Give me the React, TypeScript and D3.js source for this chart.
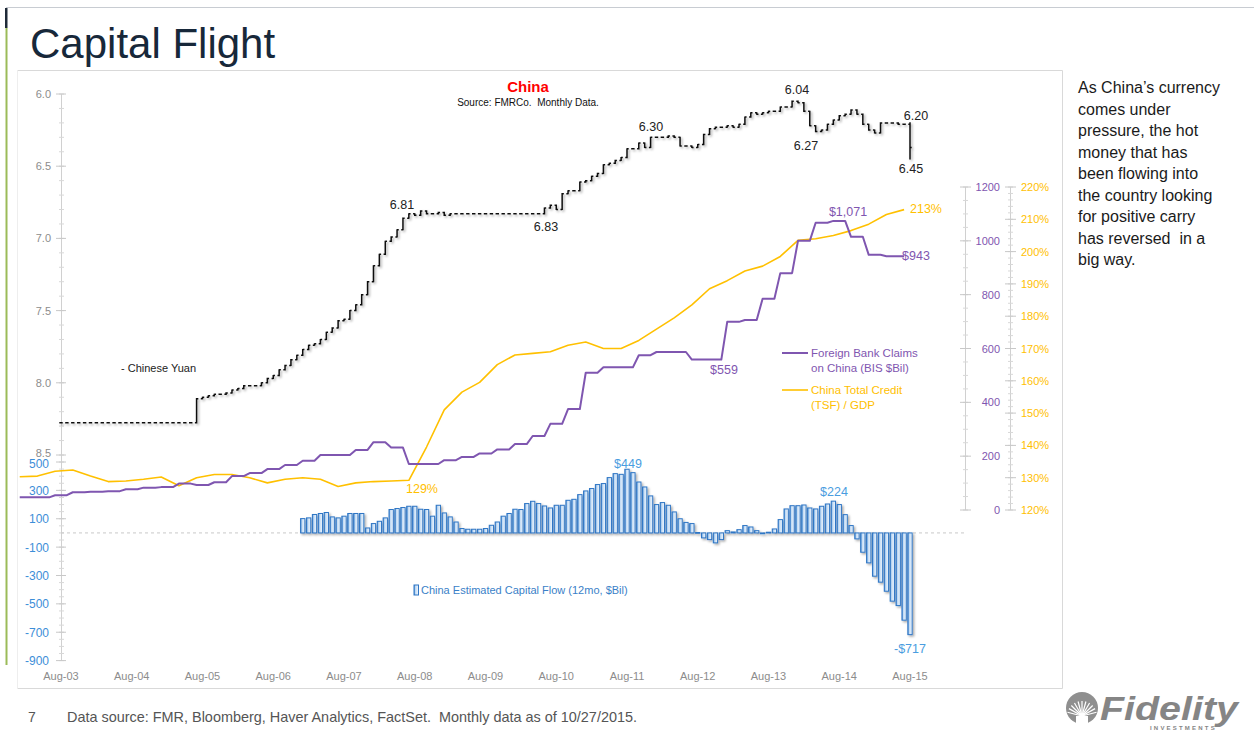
import React from 'react';
import * as d3 from 'd3';

const W = 1254;
const H = 734;

// ---------- tick labels ----------
const xTickLabels = ['Aug-03', 'Aug-04', 'Aug-05', 'Aug-06', 'Aug-07', 'Aug-08', 'Aug-09', 'Aug-10', 'Aug-11', 'Aug-12', 'Aug-13', 'Aug-14', 'Aug-15'];
const yuanTicks = [6.0, 6.5, 7.0, 7.5, 8.0, 8.5];
const flowTicks = [500, 300, 100, -100, -300, -500, -700, -900];
const claimsTicks = [0, 200, 400, 600, 800, 1000, 1200];
const tsfTicks = [120, 130, 140, 150, 160, 170, 180, 190, 200, 210, 220];

// ---------- data ----------
// months counted from Aug-03 (= 0)
// USD/CNY monthly closes, Aug-03 .. Aug-15
const yuanFirstOpen = 8.277;
const yuanClose = [
  8.277, 8.277, 8.277, 8.277, 8.277, 8.277, 8.277, 8.277, 8.277, 8.277, 8.277, 8.277,
  8.277, 8.277, 8.277, 8.277, 8.277, 8.277, 8.277, 8.277, 8.277, 8.277, 8.277,
  8.11, 8.10, 8.09, 8.08, 8.08, 8.07, 8.05, 8.04, 8.02, 8.02, 8.02, 8.00,
  7.97, 7.95, 7.91, 7.88, 7.84, 7.81, 7.77, 7.74, 7.73, 7.70, 7.65, 7.62,
  7.57, 7.56, 7.50, 7.46, 7.39, 7.30, 7.19, 7.11, 7.02, 6.99, 6.94, 6.86,
  6.83, 6.84, 6.81, 6.83, 6.83, 6.82, 6.84, 6.83, 6.83, 6.83, 6.83, 6.83,
  6.83, 6.83, 6.83, 6.83, 6.83, 6.83, 6.83, 6.83, 6.83, 6.83, 6.83, 6.79,
  6.77, 6.80, 6.69, 6.67, 6.67, 6.61, 6.60, 6.57, 6.55, 6.49, 6.48, 6.46,
  6.44, 6.38, 6.38, 6.34, 6.37, 6.30, 6.30, 6.30, 6.29, 6.30, 6.36, 6.36,
  6.37, 6.35, 6.28, 6.24, 6.23, 6.23, 6.22, 6.23, 6.21, 6.16, 6.13, 6.14,
  6.13, 6.12, 6.12, 6.09, 6.09, 6.05, 6.06, 6.12, 6.22, 6.26, 6.25, 6.21,
  6.18, 6.15, 6.14, 6.11, 6.14, 6.21, 6.25, 6.27, 6.20, 6.20, 6.20, 6.21,
  6.21, 6.37,
];
// extra range for months whose bar reaches beyond open/close
const yuanWicks = [{ m: 144, hi: 6.20, lo: 6.45 }];

// China estimated capital flow (12mo, $Bil), monthly from Jan-07 (month 41)
const flowStart = 41;
const flowValues = [
  101, 106, 130, 137, 144, 113, 106, 118, 137, 137, 137, 35,
  66, 82, 106, 165, 172, 179, 188, 188, 167, 165, 118, 195,
  141, 113, 77, 31, 26, 26, 26, 31, 54, 77, 118, 137,
  167, 165, 207, 223, 207, 190, 176, 195, 195, 230, 237, 270,
  296, 313, 341, 348, 390, 418, 413, 449, 425, 359, 324, 261,
  200, 214, 195, 148, 100, 74, 66, 3, -35, -47, -70, -47,
  16, 7, 23, 52, 42, 16, -5, 5, 28, 94, 169, 192,
  192, 197, 176, 169, 188, 204, 224, 200, 129, 52, -42, -136,
  -211, -305, -347, -411, -481, -512, -615, -717,
];

// Foreign bank claims on China (BIS, $Bil), quarterly from Q1-03 (month -7)
const claimsStart = -7;
const claimsValues = [
  47, 47, 55, 66, 68, 70, 77, 83, 85, 98, 93, 103,
  126, 137, 152, 167, 183, 204, 204, 223, 252, 232, 171, 171,
  185, 197, 210, 225, 245, 275, 320, 375, 510, 530, 530, 575,
  587, 587, 559, 559, 699, 706, 785, 880, 1000, 1067, 1074, 1015,
  948, 943,
];

// China total credit (TSF) / GDP, %, quarterly from month -7
const tsfStart = -7;
const tsfValues = [
  130.3, 130.5, 132, 132.4, 130.5, 128.8, 129, 129.5, 130.2, 127.5, 130, 131,
  131, 130, 128.4, 129.5, 130, 129.5, 127.3, 128.4, 128.8, 129, 129.2, 139.5,
  151, 156.5, 159.5, 165, 168, 168.5, 169, 171, 172, 170, 170, 172.5,
  176, 179.5, 183.5, 188.5, 191, 194, 195.5, 198.5, 203.5, 204, 205, 206.5,
  208.5, 211.5, 213,
];

// ---------- colours ----------
const PURPLE = '#7f56b0';
const ORANGE = '#ffc000';
const BLUE = '#3d8ed8';
const GRAY = '#8c8c8c';
const FONT = "Arial, 'Liberation Sans', Helvetica, sans-serif";

export default function App() {
  const x = d3.scaleLinear().domain([0, 144]).range([61, 910]);
  const yYuan = d3.scaleLinear().domain([6.0, 8.5]).range([94, 455]);
  const yFlow = d3.scaleLinear().domain([500, -900]).range([462, 660.6]);
  const yClaims = d3.scaleLinear().domain([0, 1200]).range([510, 187]);
  const yTsf = d3.scaleLinear().domain([120, 220]).range([510, 187]);

  // yuan OHLC-style bars
  const yuanBars = yuanClose.map((c, m) => {
    const o = m === 0 ? yuanFirstOpen : yuanClose[m - 1];
    let hi = Math.min(o, c);
    let lo = Math.max(o, c);
    const w = yuanWicks.find((d) => d.m === m);
    if (w) {
      hi = Math.min(hi, w.hi);
      lo = Math.max(lo, w.lo);
    }
    const xm = x(m);
    const t = 1.7;
    return `M${xm},${yYuan(hi) - 0.6}V${yYuan(lo) + 0.6}M${xm - t},${yYuan(o)}H${xm}M${xm},${yYuan(c)}H${xm + t}`;
  });

  // claims step line
  const claimsPts: [number, number][] = [];
  claimsValues.forEach((v, k) => {
    const m0 = claimsStart + 3 * k;
    const last = k === claimsValues.length - 1;
    claimsPts.push([x(m0), yClaims(v)]);
    claimsPts.push([x(m0 + (last ? 3 : 2)), yClaims(v)]);
  });
  const lineGen = d3.line<[number, number]>().x((d) => d[0]).y((d) => d[1]);
  const claimsPath = lineGen(claimsPts) || '';

  const tsfPath =
    d3
      .line<number>()
      .x((_, k) => x(tsfStart + 3 * k))
      .y((v) => yTsf(v))(tsfValues) || '';

  const barW = 4.3;
  const zeroY = yFlow(0);

  const minorYuan = d3.range(6.0, 8.5001, 0.1);
  const minorFlow = d3.range(-900, 501, 50);
  const minorClaims = d3.range(0, 1201, 50);
  const minorTsf = d3.range(120, 220.01, 2);

  const sideText = [
    'As China\u2019s currency',
    'comes under',
    'pressure, the hot',
    'money that has',
    'been flowing into',
    'the country looking',
    'for positive carry',
    'has reversed  in a',
    'big way.',
  ];

  return (
    <svg
      width={W}
      height={H}
      style={{ position: 'absolute', left: 0, top: 0, background: '#fff' }}
      fontFamily={FONT}
    >
      <defs>
        <linearGradient id="barGrad" x1="0" x2="1" y1="0" y2="0">
          <stop offset="0" stopColor="#3f86d0" />
          <stop offset="0.35" stopColor="#c4dcf4" />
          <stop offset="1" stopColor="#f0f6fd" />
        </linearGradient>
        <filter id="shadow" x="-10%" y="-10%" width="130%" height="130%">
          <feDropShadow dx="1.5" dy="1.5" stdDeviation="0.8" floodColor="#000" floodOpacity="0.35" />
        </filter>
      </defs>
      <rect x={0} y={0} width={W} height={H} fill="#fff" />

      {/* slide frame */}
      <line x1={6} x2={W} y1={7.5} y2={7.5} stroke="#c8ccd2" strokeWidth={1} />
      <rect x={5} y={8} width={2.5} height={20} fill="#1f2a38" />
      <rect x={5.5} y={28} width={2} height={637} fill="#9bbb59" />
      <text x={30} y={58} fontSize={42} fill="#17283a">
        Capital Flight
      </text>

      {/* chart box */}
      <line x1={17.5} x2={1062.5} y1={70.5} y2={70.5} stroke="#d9d9d9" />
      <line x1={1062.5} x2={1062.5} y1={70.5} y2={688.5} stroke="#d9d9d9" />
      <line x1={17.5} x2={1062.5} y1={688.5} y2={688.5} stroke="#d9d9d9" />
      <line x1={17.5} x2={17.5} y1={70.5} y2={688.5} stroke="#eeeeee" />

      {/* chart title */}
      <text x={528} y={92} textAnchor="middle" fontSize={15} fontWeight="bold" fill="#ff0000">
        China
      </text>
      <text x={528} y={106} textAnchor="middle" fontSize={10} fill="#111" xmlSpace="preserve">
        Source: FMRCo.  Monthly Data.
      </text>

      {/* left axis */}
      <line x1={61.5} x2={61.5} y1={94} y2={661} stroke="#d0d0d0" strokeWidth={1} />
      {minorYuan.map((v, i) => (
        <line key={'my' + i} x1={59} x2={64} y1={yYuan(v)} y2={yYuan(v)} stroke="#d8d8d8" />
      ))}
      {yuanTicks.map((v) => (
        <g key={'yt' + v}>
          <line x1={56} x2={66} y1={yYuan(v)} y2={yYuan(v)} stroke="#c8c8c8" />
          <text x={51} y={yYuan(v) + (v === 8.5 ? 2 : 4)} textAnchor="end" fontSize={11} fill={GRAY}>
            {v.toFixed(1)}
          </text>
        </g>
      ))}
      {minorFlow.map((v) => (
        <line key={'mf' + v} x1={59} x2={64} y1={yFlow(v)} y2={yFlow(v)} stroke="#d8d8d8" />
      ))}
      {flowTicks.map((v) => (
        <g key={'ft' + v}>
          <line x1={56} x2={66} y1={yFlow(v)} y2={yFlow(v)} stroke="#c8c8c8" />
          <text x={49} y={yFlow(v) + (v === 500 ? 5.5 : 4.5)} textAnchor="end" fontSize={12} fill={BLUE}>
            {v}
          </text>
        </g>
      ))}

      {/* right axes */}
      <line x1={965.5} x2={965.5} y1={187} y2={510} stroke="#d0d0d0" />
      {minorClaims.map((v) => (
        <line key={'mc' + v} x1={963} x2={968} y1={yClaims(v)} y2={yClaims(v)} stroke="#d8d8d8" />
      ))}
      {claimsTicks.map((v) => (
        <g key={'ct' + v}>
          <line x1={960} x2={971} y1={yClaims(v)} y2={yClaims(v)} stroke="#c8c8c8" />
          <text x={1000} y={yClaims(v) + 4} textAnchor="end" fontSize={11} fill={PURPLE}>
            {v}
          </text>
        </g>
      ))}
      <line x1={1010.5} x2={1010.5} y1={187} y2={510} stroke="#d0d0d0" />
      {minorTsf.map((v, i) => (
        <line key={'mt' + i} x1={1008} x2={1013} y1={yTsf(v)} y2={yTsf(v)} stroke="#d8d8d8" />
      ))}
      {tsfTicks.map((v) => (
        <g key={'tt' + v}>
          <line x1={1005} x2={1016} y1={yTsf(v)} y2={yTsf(v)} stroke="#c8c8c8" />
          <text x={1021} y={yTsf(v) + 4} fontSize={11} fill={ORANGE}>
            {v}%
          </text>
        </g>
      ))}

      {/* x labels */}
      {xTickLabels.map((l, i) => (
        <text key={l} x={x(i * 12)} y={680} textAnchor="middle" fontSize={11} fill={GRAY}>
          {l}
        </text>
      ))}

      {/* zero line */}
      <line x1={61} x2={965} y1={zeroY} y2={zeroY} stroke="#c8c8c8" strokeDasharray="3,3" />

      {/* capital flow bars */}
      <g filter="url(#shadow)">
        {flowValues.map((v, i) => {
          const m = flowStart + i;
          const y0 = yFlow(Math.max(0, v));
          const y1 = yFlow(Math.min(0, v));
          return (
            <rect
              key={'b' + m}
              x={x(m) - barW / 2}
              y={y0}
              width={barW}
              height={Math.max(0.8, y1 - y0)}
              fill="url(#barGrad)"
              stroke="#2f76c5"
              strokeWidth={1}
            />
          );
        })}
      </g>

      {/* TSF / GDP */}
      <path d={tsfPath} fill="none" stroke={ORANGE} strokeWidth={1.6} strokeLinejoin="round" />
      {/* Foreign claims */}
      <path d={claimsPath} fill="none" stroke={PURPLE} strokeWidth={2} strokeLinejoin="round" />

      {/* yuan bars */}
      <g filter="url(#shadow)">
        {yuanBars.map((d, i) => (
          <path key={'y' + i} d={d} fill="none" stroke="#111" strokeWidth={1.5} />
        ))}
      </g>

      {/* yuan annotations */}
      <g fontSize={12.5} fill="#222" textAnchor="middle">
        <text x={402} y={209}>6.81</text>
        <text x={546} y={231}>6.83</text>
        <text x={651} y={131}>6.30</text>
        <text x={797} y={94}>6.04</text>
        <text x={806} y={150}>6.27</text>
        <text x={916} y={120}>6.20</text>
        <text x={911} y={173}>6.45</text>
      </g>
      <text x={121} y={372} fontSize={11} fill="#222">
        - Chinese Yuan
      </text>

      {/* series annotations */}
      <g fontSize={12.5} textAnchor="middle">
        <text x={848} y={216} fill={PURPLE}>$1,071</text>
        <text x={916} y={260} fill={PURPLE}>$943</text>
        <text x={724} y={374} fill={PURPLE}>$559</text>
        <text x={926} y={213} fill={ORANGE}>213%</text>
        <text x={422} y={493} fill={ORANGE}>129%</text>
        <text x={628} y={468} fill="#4a9de0">$449</text>
        <text x={834} y={496} fill="#4a9de0">$224</text>
        <text x={910} y={653} fill="#4a9de0">-$717</text>
      </g>

      {/* legend */}
      <line x1={782} x2={808} y1={353} y2={353} stroke={PURPLE} strokeWidth={2} />
      <text x={811} y={357} fontSize={11.5} fill={PURPLE}>Foreign Bank Claims</text>
      <text x={811} y={372} fontSize={11.5} fill={PURPLE}>on China (BIS $Bil)</text>
      <line x1={782} x2={808} y1={390} y2={390} stroke={ORANGE} strokeWidth={1.6} />
      <text x={811} y={394} fontSize={11.5} fill={ORANGE}>China Total Credit</text>
      <text x={811} y={409} fontSize={11.5} fill={ORANGE}>(TSF) / GDP</text>
      <rect x={414} y={585} width={4.5} height={10} fill="url(#barGrad)" stroke="#2f76c5" />
      <text x={421} y={594} fontSize={11} fill="#3a7fc8">China Estimated Capital Flow (12mo, $Bil)</text>

      {/* side text */}
      {sideText.map((s, i) => (
        <text key={'s' + i} x={1078} y={93 + i * 21.5} fontSize={16} fill="#1a1a1a" xmlSpace="preserve">
          {s}
        </text>
      ))}

      {/* footer */}
      <text x={28} y={722} fontSize={14} fill="#555">7</text>
      <text
        x={67}
        y={722}
        fontSize={14.5}
        fill="#555"
        textLength={570}
        lengthAdjust="spacingAndGlyphs"
        xmlSpace="preserve"
      >
        Data source: FMR, Bloomberg, Haver Analytics, FactSet.  Monthly data as of 10/27/2015.
      </text>

      {/* Fidelity logo */}
      <g>
        <circle cx={1082} cy={708} r={16} fill="#8f8f8f" />
        {d3.range(0, 11).map((i) => {
          const a = Math.PI * (0.08 + (i * 0.84) / 10);
          return (
            <line
              key={'r' + i}
              x1={1082}
              y1={716}
              x2={1082 - Math.cos(a) * 15}
              y2={716 - Math.sin(a) * 15}
              stroke="#fff"
              strokeWidth={1.2}
            />
          );
        })}
        <rect x={1076} y={716} width={12} height={8} fill="#fff" />
        <text
          x={1100}
          y={720}
          fontSize={34}
          fontWeight="bold"
          fontStyle="italic"
          fill="#858585"
          textLength={138}
          lengthAdjust="spacingAndGlyphs"
        >
          Fidelity
        </text>
        <text x={1150} y={730} fontSize={6} letterSpacing={2.2} fill="#858585" fontWeight="bold">
          INVESTMENTS
        </text>
      </g>
    </svg>
  );
}
